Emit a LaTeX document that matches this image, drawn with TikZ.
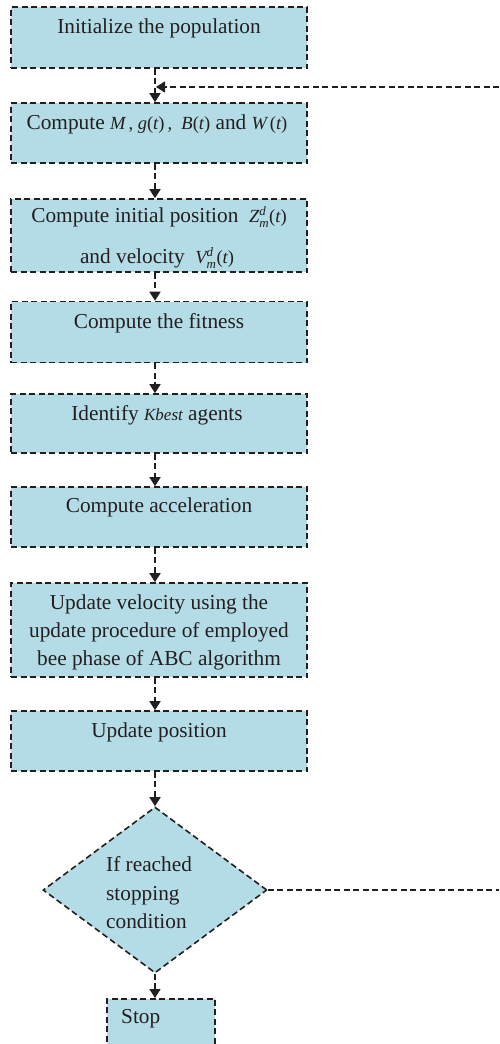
\documentclass[tikz,border=0pt]{standalone}
\usepackage{amsmath}
\usepackage{fontspec}
\setmainfont{Liberation Serif}
\usetikzlibrary{arrows.meta,shapes.geometric,calc}
\definecolor{boxfill}{RGB}{180,220,230}
\definecolor{ink}{RGB}{35,31,32}
\tikzset{
  stepbox/.style={draw=ink, fill=boxfill, line width=1.6pt, dash pattern=on 6pt off 3.5pt, rectangle, inner sep=0pt, minimum width=296pt},
  decbox/.style={draw=ink, fill=boxfill, line width=1.6pt, dash pattern=on 6pt off 3.5pt, diamond, inner sep=0pt, minimum width=224pt, minimum height=166pt},
  txt/.style={text=ink, font=\fontsize{21.3}{25}\selectfont, inner sep=0pt},
  conn/.style={draw=ink, line width=1.6pt, dash pattern=on 6pt off 3.5pt, -{Triangle[length=9pt,width=11pt]}},
  plain/.style={draw=ink, line width=1.6pt, dash pattern=on 6pt off 3.5pt}
}
\newcommand{\mi}[1]{\textit{#1}}
\newcommand{\sm}[1]{{\fontsize{18.5}{22}\selectfont #1}}
\begin{document}
\begin{tikzpicture}[x=1pt,y=-1pt]
\useasboundingbox (0,0) rectangle (499,1044);
\clip (0,0) rectangle (499,1044);
% boxes
\node[stepbox, minimum height=61pt] (b1) at (159,37.5) {};
\node[txt] (t1) at (159,28) {Initialize the population};
\node[stepbox, minimum height=60pt] (b2) at (159,133) {};
\node[txt] (t2) at (157,124) {Compute \sm{$\mi{M}$\,, $\mi{g}\textup{(}\mi{t}\textup{)}$\,, \ $\mi{B}\textup{(}\mi{t}\textup{)}$} and \sm{$\mi{W}\,\textup{(}\mi{t}\textup{)}$}};
\node[stepbox, minimum height=73pt] (b3) at (159,235.5) {};
\node[txt] (t3a) at (159,217) {Compute initial position \ \sm{$\mi{Z}^{\mi{d}}_{\mi{m}}\textup{(}\mi{t}\textup{)}$}};
\node[txt] (t3b) at (157,258) {and velocity \ \sm{$\mi{V}^{\mi{d}}_{\mi{m}}\textup{(}\mi{t}\textup{)}$}};
\node[stepbox, minimum height=61pt] (b4) at (159,332) {};
\node[txt] (t4) at (159,323) {Compute the fitness};
\node[stepbox, minimum height=59pt] (b5) at (159,423.5) {};
\node[txt] (t5) at (157,415) {Identify {\fontsize{17}{20}\selectfont\itshape Kbest} agents};
\node[stepbox, minimum height=60pt] (b6) at (159,517) {};
\node[txt] (t6) at (159,507) {Compute acceleration};
\node[stepbox, minimum height=94pt] (b7) at (159,630) {};
\node[txt, align=center, font=\fontsize{21.3}{28}\selectfont] (t7) at (159,632) {Update velocity using the\\update procedure of employed\\bee phase of ABC algorithm};
\node[stepbox, minimum height=60pt] (b8) at (159,741) {};
\node[txt] (t8) at (159,732) {Update position};
\node[decbox] (d) at (155,890) {};
\node[txt, align=left, font=\fontsize{21.3}{28.5}\selectfont, anchor=west] (td) at (106,893) {If reached\\stopping\\condition};
\node[stepbox, minimum width=108pt, minimum height=70pt, anchor=north] (stop) at (161,998) {};
\node[txt, anchor=west] (ts) at (121,1019) {Stop};
% connectors
\draw[conn] ([xshift=-4pt]b1.south) -- ([xshift=-4pt]b2.north);
\draw[conn] ([xshift=-4pt]b2.south) -- ([xshift=-4pt]b3.north);
\draw[conn] ([xshift=-4pt]b3.south) -- ([xshift=-4pt]b4.north);
\draw[conn] ([xshift=-4pt]b4.south) -- ([xshift=-4pt]b5.north);
\draw[conn] ([xshift=-4pt]b5.south) -- ([xshift=-4pt]b6.north);
\draw[conn] ([xshift=-4pt]b6.south) -- ([xshift=-4pt]b7.north);
\draw[conn] ([xshift=-4pt]b7.south) -- ([xshift=-4pt]b8.north);
\draw[conn] ([xshift=-4pt]b8.south) -- (d.north);
\draw[conn] (d.south) -- (d.south |- stop.north);
% feedback loop
\coordinate (loopA) at (499,890);
\coordinate (loopB) at (499,87);
\coordinate (loopC) at (156,87);
\draw[plain] (d.east) -- (loopA);
\draw[conn] (loopB) -- (loopC);
\end{tikzpicture}
\end{document}
